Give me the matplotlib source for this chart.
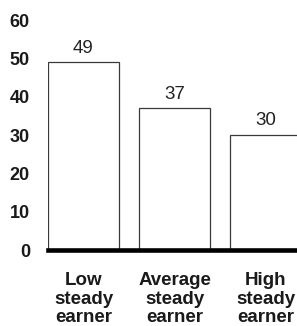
import matplotlib.pyplot as plt
import numpy as np

plt.rcParams['font.family'] = ['Liberation Sans', 'DejaVu Sans']

categories = ["Low\nsteady\nearner", "Average\nsteady\nearner", "High\nsteady\nearner"]
values = [49, 37, 30]
yticks = [0, 10, 20, 30, 40, 50, 60]

fig = plt.figure(figsize=(2.97, 3.26), dpi=100)
ax = fig.add_axes([0.1616, 0.2331, 0.8384, 0.7055])

x = np.arange(len(values))
bars = ax.bar(x, values, width=0.78, color='white', edgecolor='#3a3a3a', linewidth=0.9)

for bar in bars:
    h = bar.get_height()
    ax.annotate(str(h), (bar.get_x() + bar.get_width() / 2, h), xytext=(0, 4),
                textcoords='offset points', ha='center', va='bottom', fontsize=13.5,
                color='#222222')

ax.set_xlim(-0.39, 2.346)
ax.set_ylim(0, 60)
ax.set_yticks(yticks)
ax.set_yticklabels([str(t) for t in yticks], fontsize=13, fontweight='bold', color='#1a1a1a')
ax.set_xticks(x)
ax.set_xticklabels(categories, fontsize=13.5, fontweight='bold', color='#1a1a1a',
                   linespacing=1.12)
ax.tick_params(axis='y', length=0, pad=13)
ax.tick_params(axis='x', length=0, pad=16)

for s in ['top', 'right', 'left']:
    ax.spines[s].set_visible(False)
ax.spines['bottom'].set_linewidth(3.3)
ax.spines['bottom'].set_color('black')
ax.spines['bottom'].set_zorder(5)

fig.savefig('out.png', dpi=100)
